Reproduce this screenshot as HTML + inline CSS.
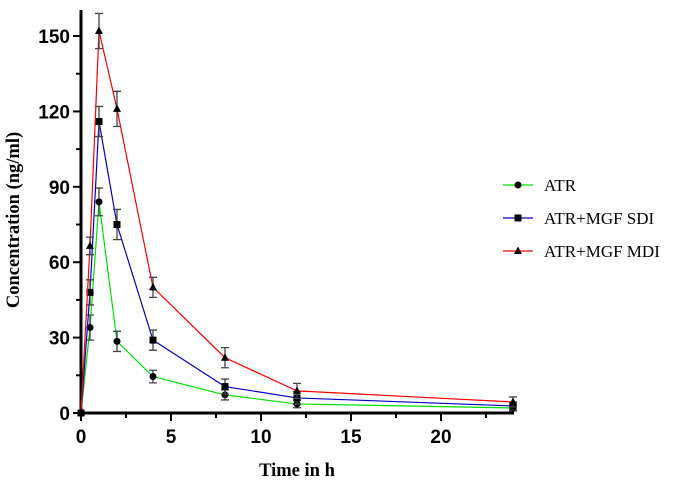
<!DOCTYPE html>
<html><head><meta charset="utf-8"><style>
body{margin:0;background:#fff}
svg{display:block}
.tk{font-family:"Liberation Sans",sans-serif;font-weight:bold;font-size:19px}
.ti{font-family:"Liberation Serif",serif;font-weight:bold;font-size:18.5px}
.lg{font-family:"Liberation Serif",serif;font-size:17px}
</style></head><body>
<svg id="chart" width="682" height="482"></svg>
<script>
const times=[0,0.5,1,2,4,8,12,24];
const atr=[0,34,84,28.5,14.5,7.2,3.6,2];
const atrErr=[0,5,5.5,4,2.5,2,1.5,1.2];
const sdi=[0,48,116,75,29,10.5,6,2.8];
const sdiErr=[0,5,6,6,4,3,2.5,1.5];
const mdi=[0,66.5,152,121,50,22,8.8,4.4];
const mdiErr=[0,3.5,7,7,4,4,3,2];
const xTicks=[0,5,10,15,20];
const yTicks=[0,30,60,90,120,150];
const NS="http://www.w3.org/2000/svg";
const svg=document.getElementById('chart');
const X=v=>81+v*18;
const Y=v=>413-v*2.513;
function mk(t,a,p){const e=document.createElementNS(NS,t);for(const k in a)e.setAttribute(k,a[k]);(p||svg).appendChild(e);return e;}
let ya=mk('line',{x1:81,y1:10,x2:81,y2:415,stroke:'#000','stroke-width':3});


let xa=mk('line',{x1:79,y1:413,x2:514,y2:413,stroke:'#000','stroke-width':3});


for(let v=0;v<=150;v+=15){const maj=v%30===0;mk('line',{x1:maj?73:76,y1:Y(v),x2:81,y2:Y(v),stroke:'#000','stroke-width':2});}
yTicks.forEach(v=>{const t=mk('text',{x:70,y:Y(v)+7,'text-anchor':'end',class:'tk'});t.textContent=v;

});
for(let v=0;v<=24;v+=2.5){const maj=v%5===0;mk('line',{x1:X(v),y1:413,x2:X(v),y2:maj?421:418,stroke:'#000','stroke-width':2});}
xTicks.forEach(v=>{const t=mk('text',{x:X(v),y:443,'text-anchor':'middle',class:'tk'});t.textContent=v;

});
let xt=mk('text',{x:297,y:476,'text-anchor':'middle',class:'ti'});xt.textContent='Time in h';


let yt=mk('text',{x:0,y:0,'text-anchor':'middle',class:'ti',transform:'translate(19,220) rotate(-90)'});yt.textContent='Concentration (ng/ml)';


function series(vals,errs,color,shape,name){
  const g=mk('g',{});
  
  
  mk('polyline',{points:times.map((t,i)=>X(t)+','+Y(vals[i])).join(' '),fill:'none',stroke:color,'stroke-width':1.2},g);
  times.forEach((t,i)=>{
    const x=X(t),y1=Y(vals[i]+errs[i]),y2=Y(vals[i]-errs[i]);
    if(errs[i]>0){mk('path',{d:`M${x},${y1}V${y2}M${x-4},${y1}H${x+4}M${x-4},${y2}H${x+4}`,stroke:'#444','stroke-width':1.3,fill:'none'},g);}
    drawMarker(g,shape,x,Y(vals[i]));
  });
}
function drawMarker(g,shape,x,y){
  if(shape==='c')mk('circle',{cx:x,cy:y,r:3.5,fill:'#000'},g);
  else if(shape==='s')mk('rect',{x:x-3.5,y:y-3.5,width:7,height:7,fill:'#000'},g);
  else mk('polygon',{points:`${x},${y-4.5} ${x-4},${y+3} ${x+4},${y+3}`,fill:'#000'},g);
}
series(atr,atrErr,'#00e000','c','atr');
series(sdi,sdiErr,'#0000cc','s','atr-mgf-sdi');
series(mdi,mdiErr,'#ff0000','t','atr-mgf-mdi');
const leg=[['ATR','#00e000','c',185],['ATR+MGF SDI','#0000cc','s',218],['ATR+MGF MDI','#ff0000','t',251]];
leg.forEach(l=>{const g=mk('g',{});


mk('line',{x1:503,y1:l[3],x2:533,y2:l[3],stroke:l[1],'stroke-width':1.2},g);
drawMarker(g,l[2],518,l[3]);
const t=mk('text',{x:544,y:l[3]+6,class:'lg'},g);t.textContent=l[0];});
</script>
</body></html>
